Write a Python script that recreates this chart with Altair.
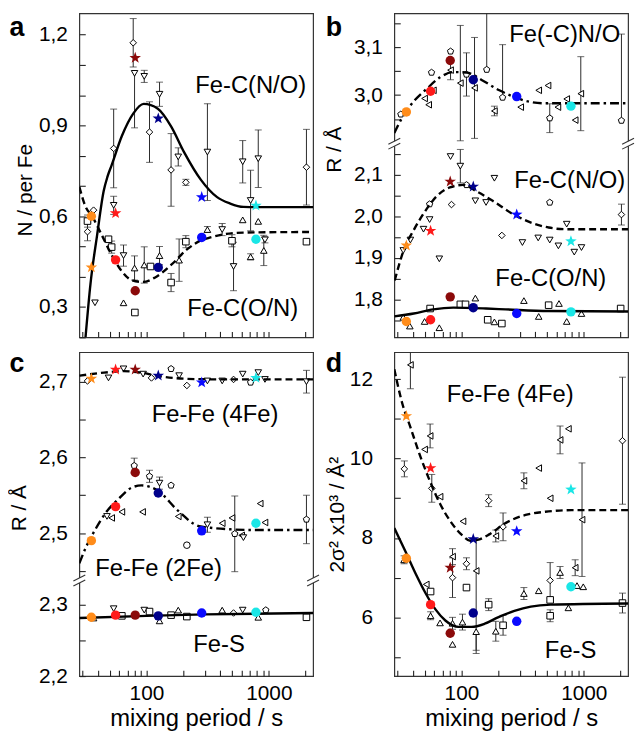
import json
import altair as alt
import pandas as pd

FONT = "Liberation Sans, Arial, Helvetica, sans-serif"

# ---------------- shared x (mixing period, s) ----------------
X_DOMAIN = [28.3, 2300]
X_TICKS = [30, 40, 50, 60, 70, 80, 90, 100, 200, 300, 400, 500, 600, 700, 800, 900, 1000, 2000]

# coloured series (one colour per mixing period)
COL_NAMES = ["orange", "red", "maroon", "navy", "blue", "cyan"]
COL_HEX = ["#ff8c1a", "#ff1a1a", "#8b0a0a", "#00008b", "#0a0aff", "#1ae6e6"]
COL_T = [35.5, 56, 81, 125, 283, 785]

# ---------------- panel a : N / per Fe ----------------
A_STARS = [0.431, 0.61, 1.123, 0.923, 0.663, 0.635]        # Fe-C(N/O)
A_CIRCLES = [0.60, 0.456, 0.354, 0.431, 0.53, 0.524]       # Fe-C(O/N)
A_OPEN = [  # (t, value, marker, err_low, err_high)
    (33, 0.549, "D", 0.03, 0.03), (37, 0.62, "D", 0, 0), (54, 0.824, "D", 0.13, 0.13),
    (78, 1.173, "D", 0.08, 0.08), (106, 0.878, "D", 0.10, 0.10), (159, 0.753, "D", 0.12, 0.12),
    (210, 0.712, "D", 0.01, 0.01), (2030, 0.762, "D", 0.125, 0.125),
    (38, 0.314, "v", 0, 0), (54, 0.636, "v", 0.03, 0.03), (65, 0.47, "v", 0.035, 0.035),
    (80, 1.072, "v", 0.18, 0), (96, 1.062, "v", 0.02, 0.02), (128, 1.003, "v", 0.04, 0.04),
    (182, 0.796, "v", 0.03, 0.03), (315, 0.812, "v", 0.16, 0.16), (416, 0.556, "v", 0.02, 0.02),
    (515, 0.434, "v", 0.08, 0.08), (612, 0.78, "v", 0.07, 0.07), (710, 0.652, "v", 0.10, 0.10),
    (820, 0.79, "v", 0.095, 0.095), (930, 0.522, "v", 0.01, 0.01),
    (65, 0.314, "^", 0, 0), (80, 0.429, "^", 0.04, 0.04), (96, 0.439, "^", 0.06, 0.06),
    (128, 0.47, "^", 0.03, 0.03), (185, 0.455, "^", 0.07, 0.07), (315, 0.556, "^", 0.01, 0.01),
    (612, 0.588, "^", 0, 0), (710, 0.466, "^", 0.01, 0.01), (820, 0.583, "^", 0, 0),
    (910, 0.487, "^", 0.05, 0.05),
    (33, 0.584, "s", 0.02, 0.02), (49, 0.524, "s", 0, 0), (52, 0.498, "s", 0.02, 0.02),
    (80.5, 0.282, "s", 0, 0), (108, 0.434, "s", 0, 0), (159, 0.381, "s", 0.03, 0.03),
    (210, 0.516, "s", 0.02, 0.02), (500, 0.519, "s", 0.02, 0.02), (2030, 0.516, "s", 0, 0),
]
A_FIT_NO_T = [31.8, 34.9, 39.5, 44.8, 48, 52, 63, 78, 95, 124, 159, 203, 278, 378, 484, 620, 900, 2300]
A_FIT_NO_V = [0.2, 0.376, 0.536, 0.684, 0.73, 0.769, 0.865, 0.939, 0.971, 0.955, 0.897, 0.812, 0.721, 0.663, 0.642, 0.631, 0.63, 0.63]
A_FIT_ON_T = [28.3, 31.8, 36, 43.4, 52, 63, 75.7, 94, 117, 159, 217, 278, 334, 426, 616, 2300]
A_FIT_ON_V = [0.697, 0.632, 0.6, 0.536, 0.472, 0.418, 0.389, 0.383, 0.397, 0.439, 0.492, 0.52, 0.53, 0.54, 0.546, 0.548]

# ---------------- panel b : R / A ----------------
B_UP_CIRCLES = [2.965, 3.008, 3.072, 3.032, 2.997, 2.977]   # Fe(-C)N/O
B_UP_OPEN = [
    (32, 2.96, "p", 0, 0), (50, 2.993, "<", 0, 0), (54, 2.98, "<", 0, 0), (59, 3.01, "<", 0, 0),
    (57, 3.047, "p", 0, 0), (81.5, 3.091, "p", 0, 0), (81.5, 3.052, "<", 0.02, 0.02),
    (98, 3.025, "<", 0.12, 0.12), (110, 3.043, "p", 0.045, 0.045), (128, 3.015, "<", 0.105, 0.105),
    (161, 3.053, "p", 0, 0.14), (186, 2.967, "<", 0.01, 0.01), (217, 2.995, "p", 0, 0.11),
    (305, 2.975, "<", 0, 0), (428, 3.01, "<", 0, 0), (510, 3.02, "<", 0, 0),
    (527, 2.952, "p", 0.03, 0.03), (614, 2.975, "<", 0, 0), (725, 2.992, "<", 0, 0),
    (850, 2.948, "<", 0, 0), (945, 3.003, "<", 0.077, 0.077), (2030, 2.947, "p", 0, 0.18),
]
B_UP_FIT_T = [28.3, 32.8, 40.8, 52, 66.9, 85.7, 110, 150, 204, 278, 335, 485, 2300]
B_UP_FIT_V = [2.921, 2.953, 2.987, 3.013, 3.037, 3.048, 3.047, 3.03, 3.01, 2.995, 2.988, 2.983, 2.983]
B_LO_STARS = [1.930, 1.965, 2.083, 2.071, 2.004, 1.940]     # Fe-C(N/O)
B_LO_CIRCLES = [1.748, 1.752, 1.807, 1.781, 1.767, 1.771]   # Fe-C(O/N)
B_LO_OPEN = [
    (33.5, 1.918, "v", 0, 0), (38.3, 1.943, "v", 0, 0), (49, 1.969, "v", 0, 0), (55, 1.992, "v", 0, 0),
    (55, 2.029, "p", 0, 0), (66, 1.898, "v", 0, 0), (81.5, 2.143, "v", 0, 0), (98, 2.12, "v", 0.04, 0.04),
    (83, 2.028, "D", 0, 0), (110, 2.075, "p", 0, 0), (130, 2.037, "v", 0, 0), (159, 2.033, "v", 0, 0),
    (186, 2.091, "v", 0, 0), (214, 1.954, "D", 0, 0), (315, 1.937, "v", 0, 0), (424, 1.948, "v", 0, 0),
    (527, 2.033, "p", 0, 0), (527, 1.943, "v", 0, 0), (620, 1.929, "v", 0, 0), (725, 1.981, "v", 0, 0),
    (836, 1.914, "v", 0, 0), (957, 1.925, "v", 0, 0), (2030, 2.004, "D", 0.025, 0.025),
    (33.5, 1.758, "^", 0, 0), (37.9, 1.737, "^", 0, 0), (50, 1.748, "^", 0, 0), (55.5, 1.779, "s", 0, 0),
    (66, 1.733, "^", 0, 0), (98, 1.789, "s", 0, 0), (108, 1.789, "s", 0, 0), (130, 1.804, "^", 0, 0),
    (164, 1.752, "s", 0, 0), (186, 1.747, "^", 0, 0), (214, 1.743, "s", 0, 0), (324, 1.798, "^", 0, 0),
    (428, 1.76, "^", 0, 0), (516, 1.787, "s", 0, 0), (627, 1.791, "^", 0, 0), (725, 1.748, "^", 0, 0),
    (957, 1.767, "^", 0, 0), (2000, 1.779, "s", 0, 0),
]
B_NO_FIT_T = [28.5, 34, 40.8, 49, 62.9, 80.5, 103, 132, 180, 261, 335, 516, 703, 2300]
B_NO_FIT_V = [1.846, 1.921, 1.967, 2.006, 2.048, 2.069, 2.075, 2.06, 2.037, 2.006, 1.99, 1.973, 1.969, 1.969]
B_ON_FIT_T = [28.3, 40.8, 59, 85.7, 159, 230, 516, 2300]
B_ON_FIT_V = [1.76, 1.767, 1.777, 1.781, 1.779, 1.777, 1.773, 1.772]

# ---------------- panel c : R / A ----------------
C_STARS_4FE = [2.704, 2.716, 2.716, 2.708, 2.699, 2.705]
C_CIRCLES_2FE = [2.490, 2.535, 2.580, 2.553, 2.503, 2.513]
C_UP_OPEN = [
    (33, 2.701, "D", 0, 0), (49, 2.705, "v", 0, 0), (65, 2.717, "v", 0, 0), (94, 2.71, "v", 0, 0),
    (110, 2.705, "D", 0, 0), (159, 2.717, "p", 0, 0), (185, 2.708, "v", 0, 0), (214, 2.695, "D", 0, 0),
    (315, 2.701, "v", 0, 0), (416, 2.701, "v", 0, 0), (515, 2.703, "D", 0, 0), (612, 2.71, "v", 0, 0),
    (710, 2.699, "p", 0, 0), (820, 2.712, "v", 0, 0), (930, 2.703, "v", 0, 0), (2030, 2.70, "v", 0.015, 0.015),
    (47.6, 2.522, "v", 0, 0), (52, 2.52, "<", 0, 0), (63, 2.528, "<", 0, 0), (79.5, 2.589, "p", 0.01, 0.01),
    (93, 2.528, "<", 0, 0), (106, 2.575, "p", 0.008, 0.008), (128, 2.566, "v", 0.008, 0.008),
    (159, 2.563, "p", 0, 0), (182, 2.522, "<", 0, 0), (214, 2.484, "o", 0, 0), (315, 2.511, "v", 0.01, 0.01),
    (416, 2.513, "<", 0, 0), (500, 2.52, "<", 0, 0), (527, 2.499, "p", 0.05, 0.05), (600, 2.497, "<", 0, 0),
    (620, 2.494, "v", 0, 0), (850, 2.539, "<", 0, 0), (930, 2.514, "<", 0, 0), (2030, 2.518, "p", 0.032, 0.032),
]
C_4FE_FIT_T = [28.3, 45, 65, 90, 130, 200, 400, 2300]
C_4FE_FIT_V = [2.708, 2.712, 2.714, 2.712, 2.707, 2.704, 2.703, 2.703]
C_2FE_FIT_T = [28.3, 31.8, 38.3, 46.1, 59, 75.7, 91, 124, 180, 269, 334, 484, 792, 2300]
C_2FE_FIT_V = [2.46, 2.48, 2.505, 2.526, 2.545, 2.56, 2.563, 2.556, 2.53, 2.509, 2.507, 2.505, 2.504, 2.504]
C_CIRCLES_FES = [2.282, 2.285, 2.285, 2.284, 2.288, 2.289]
C_LO_OPEN = [
    (37, 2.281, "^", 0, 0), (54, 2.294, "v", 0, 0), (63, 2.284, "s", 0, 0), (96, 2.292, "v", 0, 0),
    (106, 2.29, "s", 0, 0), (128, 2.277, "^", 0, 0), (159, 2.285, "s", 0, 0), (182, 2.292, "^", 0, 0),
    (214, 2.283, "s", 0, 0), (416, 2.292, "^", 0, 0), (515, 2.288, "D", 0, 0), (612, 2.292, "v", 0, 0),
    (820, 2.282, "^", 0, 0), (945, 2.292, "p", 0, 0), (2030, 2.282, "s", 0, 0),
]
C_FES_FIT_T = [28.3, 100, 300, 2300]
C_FES_FIT_V = [2.281, 2.284, 2.286, 2.288]

# ---------------- panel d : 2 sigma^2 ----------------
D_STARS = [11.07, 9.76, 7.25, 7.97, 8.17, 9.22]     # Fe-Fe (4Fe)
D_CIRCLES = [7.49, 6.32, 5.60, 6.11, 5.90, 6.77]    # Fe-S
D_OPEN = [
    (38.3, 12.36, "<", 0.6, 0.6), (34.2, 9.74, "D", 0.2, 0.2), (50, 10.23, "<", 0, 0),
    (55.5, 10.57, "<", 0.3, 0.3), (57.3, 9.25, "D", 0.35, 0.35), (66.9, 9.04, "<", 0, 0),
    (84.6, 7.53, "<", 0.2, 0.2), (84.6, 7.0, "D", 0.5, 0.5), (103, 8.42, "<", 0, 0),
    (110, 7.35, "D", 0.15, 0.15), (132, 7.17, "<", 2.0, 0.8), (167, 8.94, "D", 0.15, 0.15),
    (191, 8.05, "<", 0.15, 0.15), (219, 8.28, "D", 0.35, 0.35), (324, 9.44, "<", 0.2, 0.2),
    (428, 9.76, "<", 0, 0), (531, 9.0, "<", 0, 0), (640, 10.47, "<", 0.35, 0.35),
    (748, 10.75, "<", 0, 0), (967, 8.46, "<", 1.43, 1.43), (2070, 10.45, "D", 1.6, 1.6),
    (34, 7.45, "^", 0.1, 0.1), (51.6, 6.83, "<", 0, 0), (56, 6.65, "s", 0, 0), (56, 6.04, "^", 0.1, 0.1),
    (66.9, 5.86, "^", 0, 0), (84.6, 5.32, "^", 0, 0), (84.6, 5.85, "^", 0.15, 0.15),
    (102, 5.88, "^", 0.2, 0.2), (110, 6.75, "s", 0, 0), (132, 5.64, "^", 0.55, 0),
    (167, 6.32, "s", 0.15, 0.15), (191, 5.65, "^", 0.25, 0.25), (219, 5.80, "s", 0.25, 0.25),
    (324, 6.6, "^", 0.15, 0.15), (428, 6.67, "^", 0, 0), (531, 6.93, "D", 0.45, 0.45),
    (531, 6.44, "s", 0, 0), (531, 6.04, "s", 0.15, 0.15), (640, 7.13, "^", 0.15, 0.15),
    (748, 6.24, "^", 0, 0), (850, 7.25, "<", 0.2, 0.2), (880, 6.8, "^", 0, 0),
    (990, 6.77, "^", 0, 0), (2070, 6.36, "s", 0.25, 0.25),
]
D_4FE_FIT_T = [28.3, 32.8, 38.3, 46, 55.5, 66.9, 83, 103, 118, 135, 169, 231, 334, 484, 792, 2300]
D_4FE_FIT_V = [12.25, 11.4, 10.79, 10.07, 9.42, 8.86, 8.38, 8.05, 7.93, 7.95, 8.09, 8.38, 8.58, 8.66, 8.70, 8.70]
D_FES_FIT_T = [28.3, 35, 42.4, 51.1, 61.4, 73.9, 94.6, 121, 155, 199, 271, 369, 535, 2300]
D_FES_FIT_V = [8.25, 7.65, 7.09, 6.6, 6.2, 5.92, 5.76, 5.76, 5.84, 6.0, 6.16, 6.27, 6.32, 6.35]

# ---------------- styling / geometry ----------------
W = 236
H = 327
B_BREAK = 131
C_BREAK = 230
SHAPES = {
    "D": "diamond", "v": "triangle-down", "^": "triangle-up", "s": "square",
    "<": "triangle-left", "o": "circle",
    "p": "M0,-1L0.951,-0.309L0.588,0.809L-0.588,0.809L-0.951,-0.309Z",
}
STAR = ("M0,-1L0.235,-0.324L0.951,-0.309L0.38,0.124L0.588,0.809L0,0.4L-0.588,0.809"
        "L-0.38,0.124L-0.951,-0.309L-0.235,-0.324Z")
DASH = [7, 4]
DASHDOT = [9, 4, 2.5, 4]
ONE = pd.DataFrame({"z": [0]})
STAR_SIZE = 150
CIRC_SIZE = 90
OPEN_SIZE = 44


def y_axis(ticks, labels, fmt, title=None, title_pad=4, label_pad=12, title_y=None):
    lab = "replace(format(datum.value, '.1f'), '.', ',')" if fmt == "dec" else "format(datum.value, 'd')"
    expr = f"indexof({json.dumps(labels)}, datum.value) >= 0 ? {lab} : ''"
    kw = dict(orient="left", values=ticks, labelExpr=expr, domain=False, grid=False, ticks=True,
              tickSize=6, tickColor="#222", tickWidth=1.1, offset=-6, labelPadding=label_pad,
              labelFont=FONT, labelFontSize=21, labelColor="black", labelOverlap=False,
              title=title, titleFont=FONT, titleFontSize=21, titleFontWeight="normal",
              titleColor="black", titlePadding=title_pad)
    if title_y is not None:
        kw["titleY"] = title_y
    return alt.Axis(**kw)


def x_axis(labels):
    kw = dict(orient="bottom", values=X_TICKS, domain=False, grid=False, ticks=True, tickSize=6,
              tickColor="#222", tickWidth=1.1, offset=-6, labelOverlap=False, labelFlush=False)
    if labels:
        kw.update(labelExpr="datum.value == 100 || datum.value == 1000 ? format(datum.value, 'd') : ''",
                  labelPadding=7, labelFont=FONT, labelFontSize=21, labelColor="black",
                  title="mixing period / s", titleFont=FONT, titleFontSize=24,
                  titleFontWeight="normal", titleColor="black", titlePadding=3)
    else:
        kw.update(labels=False, title=None)
    return alt.Axis(**kw)


class Group:
    """Layers sharing one y scale and one axis definition (x and y)."""

    def __init__(self, lo, hi, yaxis, xaxis, rng=None):
        self.lo, self.hi = lo, hi
        kw = dict(domain=[lo, hi], nice=False, zero=False)
        if rng is not None:
            kw["range"] = rng
        self.ys = alt.Scale(**kw)
        self.yaxis, self.xaxis = yaxis, xaxis

    def X(self):
        return alt.X("t:Q", scale=alt.Scale(type="log", domain=X_DOMAIN, nice=False), axis=self.xaxis)

    def Y(self, field):
        return alt.Y(f"{field}:Q", scale=self.ys, axis=self.yaxis)

    def open_layers(self, pts):
        df = pd.DataFrame(pts, columns=["t", "v", "m", "el", "eh"])
        # error bars end at the frame when they run past it
        df["lo"] = (df["v"] - df["el"]).clip(lower=self.lo)
        df["hi"] = (df["v"] + df["eh"]).clip(upper=self.hi)
        out = []
        eb = df[(df["el"] > 0) | (df["eh"] > 0)]
        if len(eb):
            out.append(alt.Chart(eb).mark_rule(color="#2b2b2b", strokeWidth=1).encode(
                x=self.X(), y=self.Y("lo"), y2="hi:Q"))
            lo_caps = eb[(eb["el"] > 0) & (eb["lo"] > self.lo)][["t", "lo"]].rename(columns={"lo": "v"})
            hi_caps = eb[(eb["eh"] > 0) & (eb["hi"] < self.hi)][["t", "hi"]].rename(columns={"hi": "v"})
            out.append(alt.Chart(pd.concat([lo_caps, hi_caps])).mark_tick(
                orient="horizontal", size=7, thickness=1, color="#2b2b2b").encode(x=self.X(), y=self.Y("v")))
        out.append(alt.Chart(df).mark_point(filled=True, fill="white", stroke="black", strokeWidth=1,
                                            size=OPEN_SIZE, opacity=1).encode(
            x=self.X(), y=self.Y("v"),
            shape=alt.Shape("m:N", scale=alt.Scale(domain=list(SHAPES.keys()), range=list(SHAPES.values())),
                            legend=None)))
        return out

    def fit(self, T, V, dash):
        mk = dict(color="black", strokeWidth=2.4, clip=True, interpolate="monotone")
        if dash:
            mk["strokeDash"] = dash
        V = [min(max(v, self.lo), self.hi) for v in V]
        return alt.Chart(pd.DataFrame({"t": T, "v": V})).mark_line(**mk).encode(x=self.X(), y=self.Y("v"))

    def coloured(self, vals, shape, size):
        df = pd.DataFrame({"t": COL_T, "v": vals, "k": COL_NAMES})
        return alt.Chart(df).mark_point(shape=shape, filled=True, size=size, opacity=1, strokeWidth=0).encode(
            x=self.X(), y=self.Y("v"),
            color=alt.Color("k:N", scale=alt.Scale(domain=COL_NAMES, range=COL_HEX), legend=None))


def txt(s, x, y, size=24, weight="normal", baseline="middle"):
    return alt.Chart(ONE).mark_text(text=s, font=FONT, fontSize=size, fontWeight=weight, align="center",
                                    baseline=baseline, color="black").encode(x=alt.value(x), y=alt.value(y))


def breaks(br):
    out = []
    for ex in (0, W):
        out.append(alt.Chart(ONE).mark_rect(color="white").encode(
            x=alt.value(ex - 3), x2=alt.value(ex + 3), y=alt.value(br - 2), y2=alt.value(br + 3)))
        for dy in (-2, 3):
            out.append(alt.Chart(ONE).mark_rule(color="#333", strokeWidth=1.1).encode(
                x=alt.value(ex - 6), x2=alt.value(ex + 6), y=alt.value(br + dy + 3), y2=alt.value(br + dy - 3)))
    return out


def rng(lo, hi, step):
    n = int(round((hi - lo) / step))
    return [round(lo + i * step, 3) for i in range(n + 1)]


# ---------------- panel a ----------------
ga = Group(0.2, 1.27,
           y_axis(rng(0.2, 1.2, 0.1), [0.3, 0.6, 0.9, 1.2], "dec", "N / per Fe", title_pad=3, title_y=178),
           x_axis(False))
pa = alt.layer(
    *ga.open_layers(A_OPEN),
    ga.fit(A_FIT_NO_T, A_FIT_NO_V, None),
    ga.fit(A_FIT_ON_T, A_FIT_ON_V, DASH),
    ga.coloured(A_CIRCLES, "circle", CIRC_SIZE),
    ga.coloured(A_STARS, STAR, STAR_SIZE),
    txt("Fe-C(N/O)", 173, 73), txt("Fe-C(O/N)", 165, 298),
    txt("a", -63, 23, size=27, weight="bold", baseline="alphabetic"),
).properties(width=W, height=H)

# ---------------- panel b ----------------
xb = x_axis(False)
gbu = Group(2.9, 3.17, y_axis(rng(2.95, 3.15, 0.05), [3.0, 3.1], "dec", None), xb, [B_BREAK, 0])
gbl = Group(1.71, 2.175,
            y_axis(rng(1.75, 2.15, 0.05), [1.8, 1.9, 2.0, 2.1], "dec", "R / Å", title_pad=9, title_y=137),
            xb, [H, B_BREAK])
b_upper = alt.layer(
    *gbu.open_layers(B_UP_OPEN),
    gbu.fit(B_UP_FIT_T, B_UP_FIT_V, DASHDOT),
    gbu.coloured(B_UP_CIRCLES, "circle", CIRC_SIZE),
)
b_lower = alt.layer(
    *gbl.open_layers(B_LO_OPEN),
    gbl.fit(B_NO_FIT_T, B_NO_FIT_V, DASH),
    gbl.fit(B_ON_FIT_T, B_ON_FIT_V, None),
    gbl.coloured(B_LO_CIRCLES, "circle", CIRC_SIZE),
    gbl.coloured(B_LO_STARS, STAR, STAR_SIZE),
)
pb = alt.layer(
    b_upper, b_lower, *breaks(B_BREAK),
    txt("Fe(-C)N/O", 172, 22), txt("Fe-C(N/O)", 177, 169), txt("Fe-C(O/N)", 158, 268),
    txt("b", -61, 23, size=27, weight="bold", baseline="alphabetic"),
).resolve_scale(y="independent").properties(width=W, height=H)

# ---------------- panel c ----------------
xc = x_axis(True)
gcu = Group(2.438, 2.739,
            y_axis(rng(2.45, 2.7, 0.05), [2.5, 2.6, 2.7], "dec", "R / Å", title_pad=9, title_y=157),
            xc, [C_BREAK, 0])
gcl = Group(2.2, 2.334, y_axis(rng(2.2, 2.3, 0.05), [2.2, 2.3], "dec", None), xc, [H, C_BREAK])
c_upper = alt.layer(
    *gcu.open_layers(C_UP_OPEN),
    gcu.fit(C_4FE_FIT_T, C_4FE_FIT_V, DASH),
    gcu.fit(C_2FE_FIT_T, C_2FE_FIT_V, DASHDOT),
    gcu.coloured(C_CIRCLES_2FE, "circle", CIRC_SIZE),
    gcu.coloured(C_STARS_4FE, STAR, STAR_SIZE),
)
c_lower = alt.layer(
    *gcl.open_layers(C_LO_OPEN),
    gcl.fit(C_FES_FIT_T, C_FES_FIT_V, None),
    gcl.coloured(C_CIRCLES_FES, "circle", CIRC_SIZE),
)
pc = alt.layer(
    c_upper, c_lower, *breaks(C_BREAK),
    txt("Fe-Fe (4Fe)", 137, 63), txt("Fe-Fe (2Fe)", 80, 219), txt("Fe-S", 141, 296),
    txt("c", -63, 20, size=27, weight="bold", baseline="alphabetic"),
).resolve_scale(y="independent").properties(width=W, height=H)

# ---------------- panel d ----------------
gd = Group(4.52, 12.68,
           y_axis(list(range(5, 13)), [6, 8, 10, 12], "int", "2σ² x10³ / Å²", title_pad=2, label_pad=22),
           x_axis(True))
pd_ = alt.layer(
    *gd.open_layers(D_OPEN),
    gd.fit(D_4FE_FIT_T, D_4FE_FIT_V, DASH),
    gd.fit(D_FES_FIT_T, D_FES_FIT_V, None),
    gd.coloured(D_CIRCLES, "circle", CIRC_SIZE),
    gd.coloured(D_STARS, STAR, STAR_SIZE),
    txt("Fe-Fe (4Fe)", 117, 43), txt("Fe-S", 178, 302),
    txt("d", -61, 20, size=27, weight="bold", baseline="alphabetic"),
).properties(width=W, height=H)

chart = alt.concat(
    pa, pb, pc, pd_, columns=2, spacing={"row": 15, "column": 82}, bounds="flush"
).properties(
    padding={"left": 0, "top": 0, "right": 0, "bottom": 0}
).configure(font=FONT).configure_view(stroke="#333", strokeWidth=1.2)

chart.save("out.html", embed_options={"renderer": "svg", "actions": False})
